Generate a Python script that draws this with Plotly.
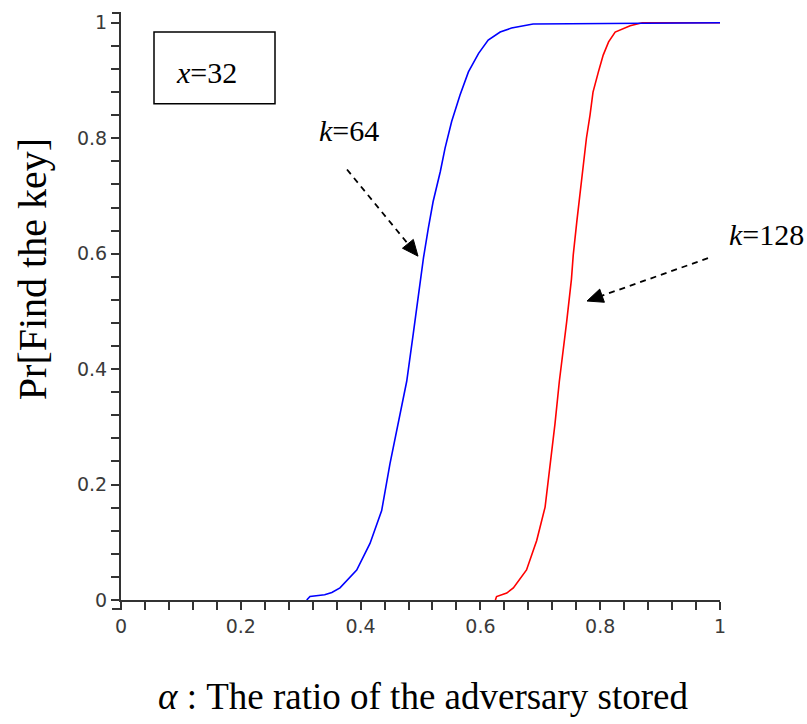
import math
import plotly.graph_objects as go

# ---- data ----
k64_x = [0.310, 0.3155, 0.340, 0.352, 0.3656, 0.3935, 0.4157, 0.4352, 0.449, 0.463, 0.477,
         0.488, 0.496, 0.505, 0.513, 0.521, 0.533, 0.541, 0.552, 0.566, 0.580, 0.597,
         0.613, 0.633, 0.652, 0.688, 1.0]
k64_y = [0.0, 0.006, 0.009, 0.013, 0.021, 0.052, 0.098, 0.155, 0.236, 0.305, 0.379,
         0.462, 0.527, 0.593, 0.644, 0.690, 0.742, 0.783, 0.829, 0.875, 0.915, 0.947,
         0.970, 0.984, 0.991, 0.998, 1.0]

k128_x = [0.625, 0.627, 0.644, 0.655, 0.677, 0.694, 0.708, 0.716, 0.7245, 0.7318, 0.7396,
          0.744, 0.752, 0.755, 0.761, 0.766, 0.772, 0.777, 0.783, 0.788, 0.797, 0.805,
          0.814, 0.825, 0.850, 0.870, 1.0]
k128_y = [0.0, 0.006, 0.012, 0.021, 0.052, 0.103, 0.161, 0.230, 0.305, 0.379, 0.440,
          0.482, 0.556, 0.598, 0.656, 0.702, 0.754, 0.800, 0.840, 0.880, 0.915, 0.944,
          0.967, 0.984, 0.995, 1.0, 1.0]

x_title = "<i>α</i> : The ratio of the adversary stored"
y_title = "Pr[Find the key]"
box_label = "<i>x</i>=32"
label_k64 = "<i>k</i>=64"
label_k128 = "<i>k</i>=128"

# ---- layout geometry (pixels) ----
W, H = 807, 724
PL, PR, PT, PB = 121, 720, 11, 600


def pp(px, py):
    return (px - PL) / (PR - PL), (PB - py) / (PB - PT)


SERIF = "Liberation Serif, Times New Roman, serif"
SANS = "DejaVu Sans, Arial, sans-serif"
AXC = "#333333"

fig = go.Figure()
fig.add_trace(go.Scatter(x=k128_x, y=k128_y, mode="lines",
                         line=dict(color="#ff0000", width=1.6), showlegend=False))
fig.add_trace(go.Scatter(x=k64_x, y=k64_y, mode="lines",
                         line=dict(color="#0000ff", width=1.6), showlegend=False))

shapes = []
annotations = []

# box around x=32
x0, y0 = pp(154, 30)
x1, y1 = pp(275, 102)
shapes.append(dict(type="rect", xref="paper", yref="paper", x0=x0, y0=y1, x1=x1, y1=y0,
                   line=dict(color="black", width=1.5), fillcolor="rgba(0,0,0,0)"))


def text_at(txt, px, py, size=30, angle=0):
    ax, ay = pp(px, py)
    annotations.append(dict(text=txt, x=ax, y=ay, xref="paper", yref="paper",
                            showarrow=False, xanchor="center", yanchor="middle",
                            textangle=angle, font=dict(family=SERIF, size=size, color="black")))


text_at(box_label, 206, 71, 30)
text_at(label_k64, 349, 129, 30)
text_at(label_k128, 766, 233, 30)
text_at(y_title, 32, 268, 40, -90)
text_at(x_title, 423, 697, 37)


def dashed_arrow(sx, sy, tx, ty, hl=16, hw=7):
    dx, dy = tx - sx, ty - sy
    L = math.hypot(dx, dy)
    ux, uy = dx / L, dy / L
    bx, by = tx - hl * ux, ty - hl * uy
    a = pp(sx, sy)
    b = pp(bx, by)
    shapes.append(dict(type="line", xref="paper", yref="paper", x0=a[0], y0=a[1], x1=b[0], y1=b[1],
                       line=dict(color="black", width=1.8, dash="6px,5px")))
    p1 = pp(bx - hw * uy, by + hw * ux)
    p2 = pp(bx + hw * uy, by - hw * ux)
    t = pp(tx, ty)
    path = f"M {t[0]},{t[1]} L {p1[0]},{p1[1]} L {p2[0]},{p2[1]} Z"
    shapes.append(dict(type="path", xref="paper", yref="paper", path=path,
                       fillcolor="black", line=dict(color="black", width=1)))


dashed_arrow(347, 168, 418, 255)
dashed_arrow(708, 257, 587, 300)

# small axis stubs (Maple style ends)
for (ax0, ay0, ax1, ay1) in [(121, 600, 121, 609), (112, 609, 121, 609), (112, 11, 121, 11)]:
    a = pp(ax0, ay0)
    b = pp(ax1, ay1)
    shapes.append(dict(type="line", xref="paper", yref="paper", x0=a[0], y0=a[1], x1=b[0], y1=b[1],
                       line=dict(color=AXC, width=2)))

fig.update_layout(
    width=W, height=H,
    margin=dict(l=PL, r=W - PR, t=PT, b=H - PB, pad=0),
    paper_bgcolor="white", plot_bgcolor="white",
    shapes=shapes, annotations=annotations,
    showlegend=False,
)
tickfont = dict(family=SANS, size=19, color="#3a3a3a")
fig.update_xaxes(range=[0, 1], showgrid=False, zeroline=False, showline=True,
                 linecolor=AXC, linewidth=2, ticks="outside", ticklen=8, tickwidth=1.5,
                 tickcolor=AXC, tick0=0, dtick=0.2,
                 minor=dict(dtick=0.04, ticks="outside", ticklen=8, tickwidth=1.5, tickcolor=AXC),
                 tickfont=tickfont, fixedrange=True)
fig.update_yaxes(range=[0, 1.017], showgrid=False, zeroline=False, showline=True,
                 linecolor=AXC, linewidth=2, ticks="outside", ticklen=8, tickwidth=1.5,
                 tickcolor=AXC, tick0=0, dtick=0.2,
                 minor=dict(dtick=0.04, ticks="outside", ticklen=8, tickwidth=1.5, tickcolor=AXC),
                 tickfont=tickfont, fixedrange=True)

fig.write_html("out.html", config={"displayModeBar": False},
               post_script="document.body.style.margin='0px';document.body.style.padding='0px';")
